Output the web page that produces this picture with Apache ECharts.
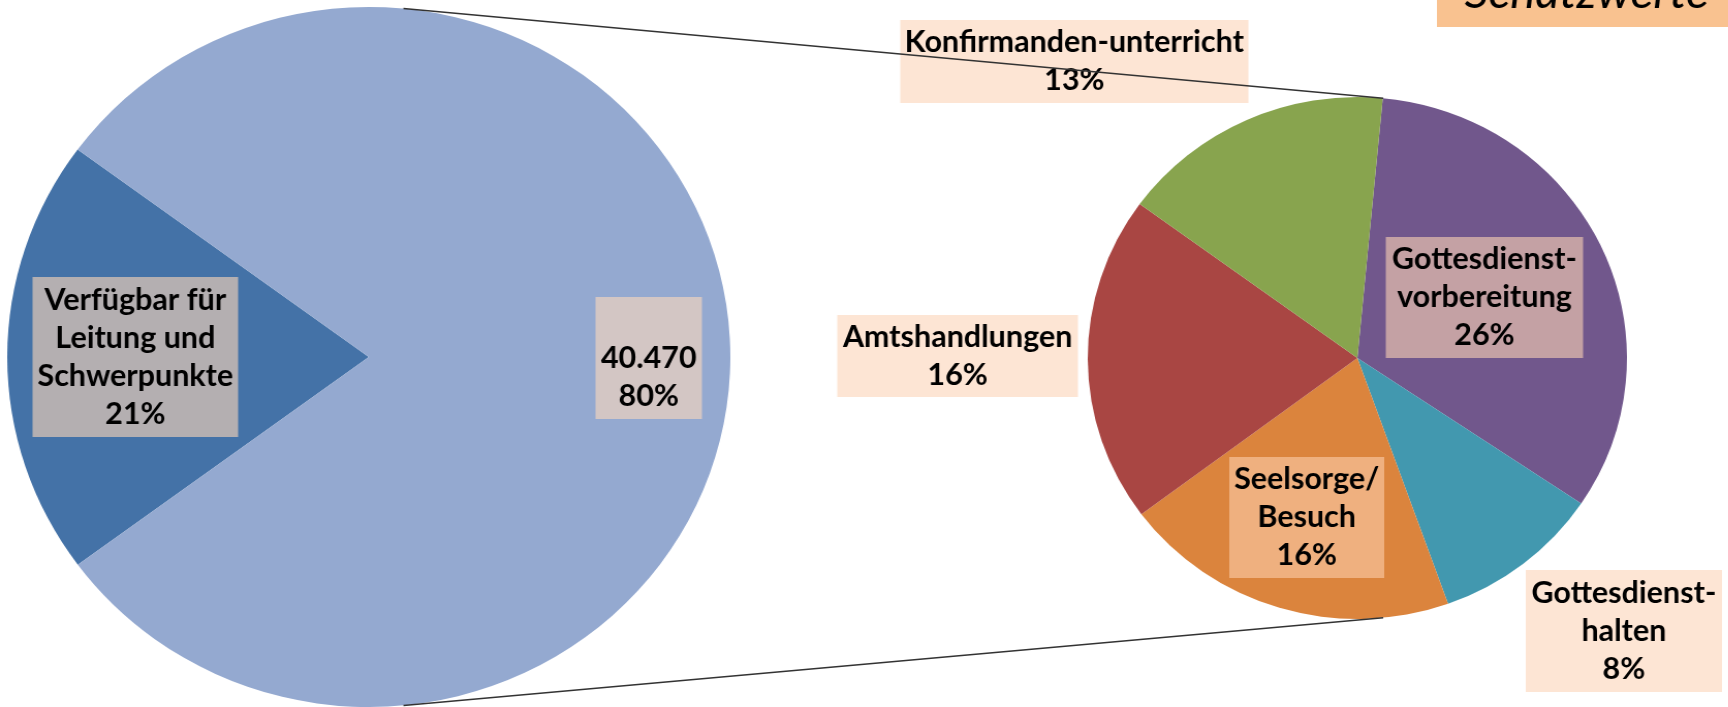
<!DOCTYPE html>
<html>
<head>
<meta charset="utf-8">
<script src="https://cdn.jsdelivr.net/npm/echarts@6/dist/echarts.min.js"></script>
<style>
  html, body { margin: 0; padding: 0; background: #fff; overflow: hidden; }
  #wrap { width: 1728px; height: 707px; overflow: hidden; }
  /* the reference is slightly stretched horizontally */
  #chart { width: 1673px; height: 707px; transform: scaleX(1.033); transform-origin: 0 0; }
</style>
</head>
<body>
<div id="wrap"><div id="chart"></div></div>
<script>
// main pie: available time vs. the part broken down on the right
const mainNames = ['Verfügbar für\nLeitung und\nSchwerpunkte', 'Aufgaben'];
const mainValues = [10250, 40470];
const mainPct = [21, 80];

// breakdown pie (clockwise from top)
const subNames = ['Gottesdienst-\nvorbereitung', 'Gottesdienst-\nhalten', 'Seelsorge/\nBesuch', 'Amtshandlungen', 'Konfirmanden-unterricht'];
const subValues = [26, 8, 16, 16, 13];

const mainColors = ['#4472a7', '#94a9d0'];
const subColors = ['#71578c', '#4298af', '#db843d', '#a94643', '#88a44e'];

// layout (unstretched px)
const mainCenter = [357, 357], mainR = 350;
const subCenter = [1314, 358], subR = 261;

// label boxes: center x/y, width, height, background
const mainBoxes = [
  { x: 131, y: 357, w: 199, h: 160, bg: '#b4afb1' },
  { x: 628, y: 358, w: 103, h: 122, bg: '#d3c6c4' }
];
const subBoxes = [
  { x: 1437, y: 297.5, w: 191, h: 121, bg: '#c4a1a4' },
  { x: 1572, y: 631, w: 190, h: 122, bg: '#fde5d4' },
  { x: 1265, y: 517.5, w: 150, h: 121, bg: '#efb07f' },
  { x: 927, y: 356, w: 233, h: 82, bg: '#fde5d4' },
  { x: 1040, y: 61.5, w: 337, h: 83, bg: '#fde5d4' }
];

const LH = 38;
const FONT = 'Lato, "Open Sans", sans-serif';

function boxLabel(box, lines) {
  const padV = (box.h - lines * LH) / 2;
  const pad = [padV, 4, padV, 4];
  return {
    show: true,
    position: 'inside',
    backgroundColor: box.bg,
    padding: pad,
    width: box.w - pad[1] - pad[3],
    overflow: 'none',
    align: 'center',
    lineHeight: LH,
    fontSize: 29.5,
    fontWeight: 'bold',
    fontFamily: FONT,
    color: '#000'
  };
}

const fmtDe = v => v.toLocaleString('de-DE');

// the value label sits in the lower part of its box (empty first line)
const mainData = mainValues.map((v, i) => ({
  name: mainNames[i],
  value: v,
  itemStyle: { color: mainColors[i] },
  label: Object.assign(boxLabel(mainBoxes[i], i === 0 ? 4 : 3), {
    formatter: i === 0 ? mainNames[i] + '\n' + mainPct[i] + '%' : ' \n' + fmtDe(v) + '\n' + mainPct[i] + '%'
  })
}));

const subData = subValues.map((v, i) => ({
  name: subNames[i],
  value: v,
  itemStyle: { color: subColors[i] },
  label: Object.assign(boxLabel(subBoxes[i], subNames[i].split('\n').length + 1), {
    formatter: subNames[i] + '\n' + v + '%'
  })
}));

// connector lines between the two pies
const conA = 5.5 * Math.PI / 180;
function pt(c, r, bearing) {
  return [c[0] + r * Math.sin(bearing), c[1] - r * Math.cos(bearing)];
}
const topA = pt(mainCenter, mainR, conA), topB = pt(subCenter, subR, conA);
const botA = pt(mainCenter, mainR, Math.PI - conA), botB = pt(subCenter, subR, Math.PI - conA);

const chart = echarts.init(document.getElementById('chart'));
chart.setOption({
  animation: false,
  series: [
    {
      type: 'pie',
      center: mainCenter,
      radius: mainR,
      startAngle: 216.4,
      clockwise: true,
      avoidLabelOverlap: false,
      silent: true,
      labelLine: { show: false },
      labelLayout: p => ({ x: mainBoxes[p.dataIndex].x, y: mainBoxes[p.dataIndex].y, align: 'center', verticalAlign: 'middle' }),
      data: mainData
    },
    {
      type: 'pie',
      center: subCenter,
      radius: subR,
      startAngle: 84.6,
      clockwise: true,
      avoidLabelOverlap: false,
      silent: true,
      labelLine: { show: false },
      labelLayout: p => ({ x: subBoxes[p.dataIndex].x, y: subBoxes[p.dataIndex].y, align: 'center', verticalAlign: 'middle' }),
      data: subData
    }
  ],
  graphic: [
    { type: 'line', z: 100, shape: { x1: topA[0], y1: topA[1], x2: topB[0], y2: topB[1] }, style: { stroke: '#333', lineWidth: 1.5 } },
    { type: 'line', z: 100, shape: { x1: botA[0], y1: botA[1], x2: botB[0], y2: botB[1] }, style: { stroke: '#333', lineWidth: 1.5 } },
    { type: 'rect', z: 100, shape: { x: 1391, y: 0, width: 290, height: 27 }, style: { fill: '#f9c290' } },
    { type: 'text', z: 101, style: { text: 'Schätzwerte', x: 1536, y: -7, align: 'center', verticalAlign: 'middle', font: 'italic 46px ' + FONT, fill: '#000' } }
  ]
});
</script>
</body>
</html>
